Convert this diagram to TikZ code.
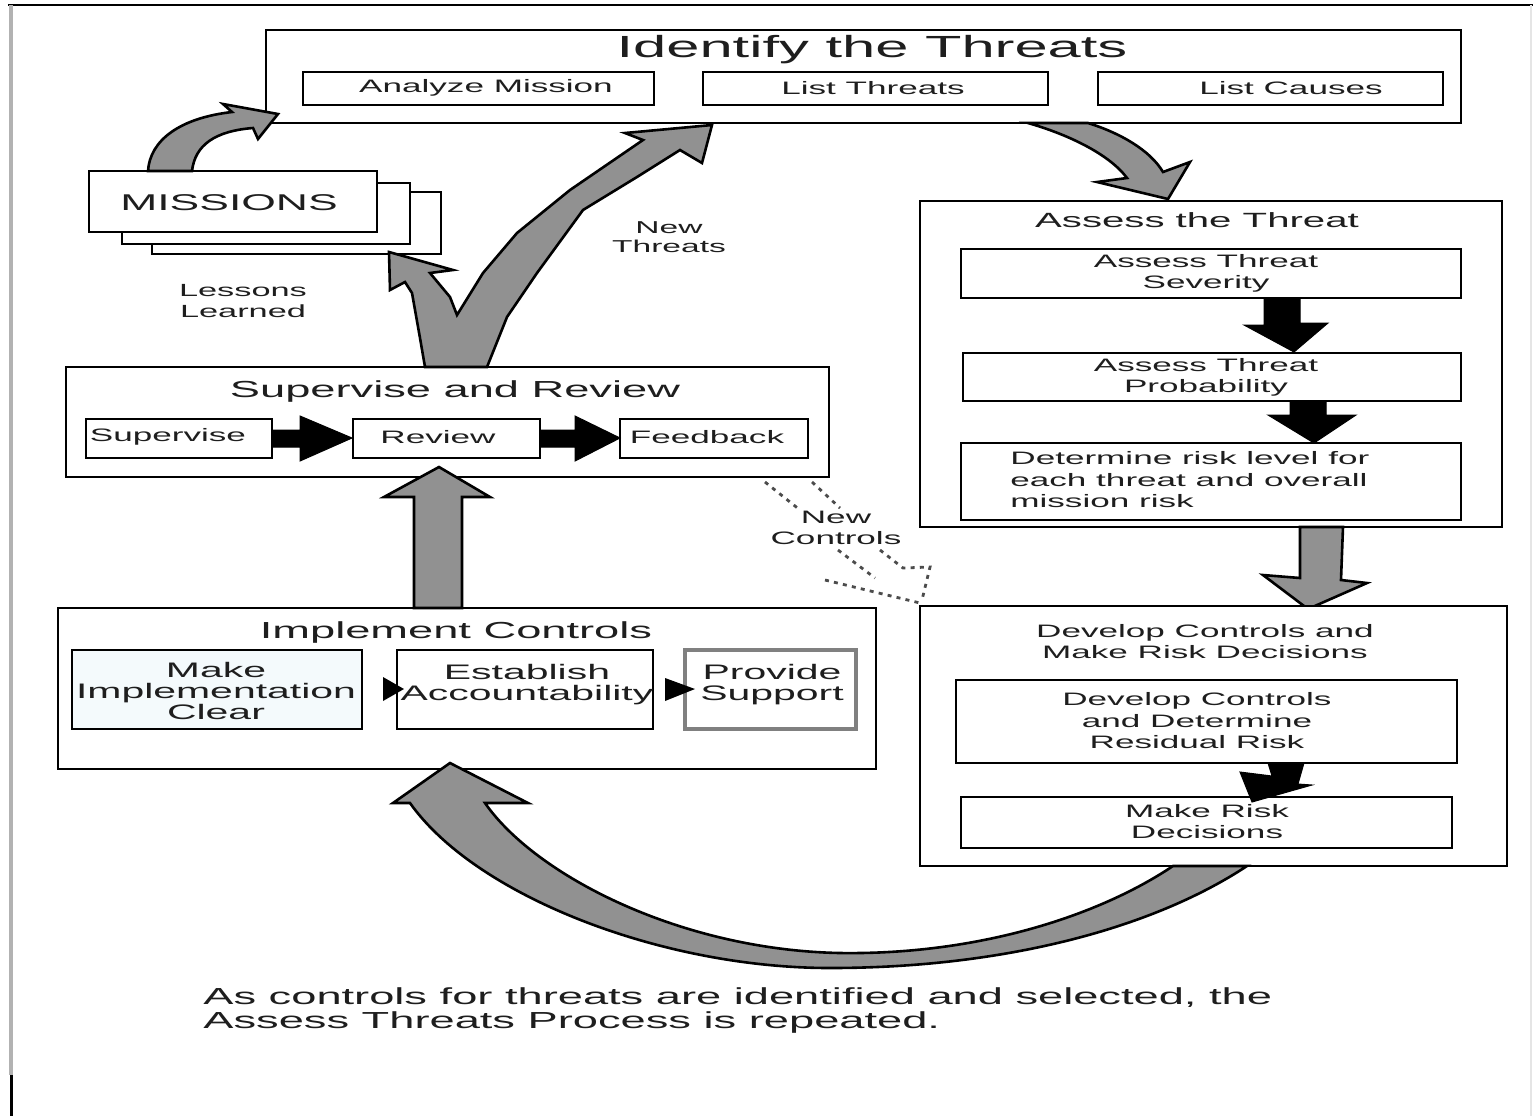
\documentclass[tikz,border=0pt]{standalone}
\usepackage{fontspec}
\setmainfont{Liberation Sans}[FakeStretch=1.95]
\usetikzlibrary{fit}
\definecolor{agray}{RGB}{145,145,145}
\definecolor{tcol}{RGB}{30,30,30}
\definecolor{lblue}{RGB}{244,250,252}
\begin{document}
\begin{tikzpicture}[x=0.5pt,y=-0.5pt,
  box/.style={draw=black, line width=1.3pt, inner sep=0pt, fill=white},
  txt/.style={font=\fontsize{9}{10.5}\selectfont, align=center, inner sep=0pt, text=tcol},
  ttl/.style={txt, font=\fontsize{11.6}{13}\selectfont},
  subt/.style={txt, font=\fontsize{10.5}{10.5}\selectfont},
  garrow/.style={fill=agray, draw=black, line width=1.3pt, line join=miter},
  barrow/.style={fill=black, draw=black, line width=0.5pt, line join=miter},
  dotline/.style={draw=black!70, line width=1.4pt, dash pattern=on 2pt off 2.6pt}]
\useasboundingbox (0,0) rectangle (1533,1116);
\fill[white] (0,0) rectangle (1533,1116);

% outer frame
\draw[black, line width=0.8pt] (8,5) -- (1533,5);
\draw[gray!60, line width=2.2pt] (11,5) -- (11,1075);
\draw[black, line width=1.5pt] (11,1075) -- (11,1116);
\draw[gray!20, line width=1pt] (1531,5) -- (1531,1116);

% Identify the Threats
\node[box, line width=1.4pt, fit={(266,30)(1461,123)}] (ident) {};
\node[txt, font=\fontsize{15.3}{17}\selectfont] (identt) at (872,50) {Identify the Threats};
\node[box, fit={(303,72)(654,105)}] (am) {};
\node[txt] (amt) at (486,88) {Analyze Mission};
\node[box, fit={(703,72)(1048,105)}] (lt) {};
\node[txt] (ltt) at (873,88) {List Threats};
\node[box, fit={(1098,72)(1443,105)}] (lc) {};
\node[txt] (lct) at (1291,88) {List Causes};

% Missions stack
\node[box, fit={(152,192)(441,254)}] (m3) {};
\node[box, fit={(122,183)(410,244)}] (m2) {};
\node[box, fit={(89,171)(377,232)}] (m1) {};
\node[txt, font=\fontsize{11.4}{13}\selectfont] (m1t) at (229,203) {MISSIONS};
\node[txt, font=\fontsize{8.8}{10.5}\selectfont] (ll) at (243,301) {Lessons\\Learned};
\node[txt, font=\fontsize{8.6}{9.5}\selectfont] (nt) at (669,237) {New\\Threats};

% Missions -> Identify arrow
\filldraw[garrow] (148,171) .. controls (150,140) and (180,118) .. (232,112)
  -- (223,104) -- (278,114) -- (258,139) -- (253,128)
  .. controls (215,131) and (195,145) .. (192,171) -- cycle;

% Supervise and Review
\node[box, fit={(66,367)(829,477)}] (sr) {};
\node[ttl] (srt) at (455,391) {Supervise and Review};
\node[box, fit={(86,419)(272,458)}] (sup) {};
\node[txt] (supt) at (168,437) {Supervise};
\node[box, fit={(353,419)(540,458)}] (rev) {};
\node[txt] (revt) at (438,437) {Review};
\node[box, fit={(620,419)(808,458)}] (fb) {};
\node[txt] (fbt) at (707,437) {Feedback};
\filldraw[barrow] (272,430) -- (300,430) -- (300,416) -- (352,438) -- (300,461) -- (300,447) -- (272,447) -- cycle;
\filldraw[barrow] (540,430) -- (575,430) -- (575,416) -- (620,438) -- (575,461) -- (575,447) -- (540,447) -- cycle;

% check-shaped arrow (Supervise -> Missions / Identify)
\filldraw[garrow] (425,367) -- (420,338) -- (412,293) -- (405,282) -- (390,290) -- (389,252)
  -- (453,270) -- (430,273) -- (450,297) -- (457,315) -- (483,273) -- (517,233)
  -- (570,190) -- (643,140) -- (625,133) -- (712,125) -- (702,163) -- (680,150)
  -- (637,177) -- (583,210) -- (537,273) -- (507,317) -- (487,367) -- cycle;

% Identify -> Assess arrow
\filldraw[garrow] (1028,123) -- (1088,123) .. controls (1120,133) and (1150,150) .. (1163,172)
  -- (1190,162) -- (1168,199) -- (1097,182) -- (1127,178)
  .. controls (1110,155) and (1070,135) .. (1028,123) -- cycle;

% Assess the Threat
\node[box, fit={(920,201)(1502,527)}] (at) {};
\node[txt, font=\fontsize{10.3}{12}\selectfont] (att) at (1197,220) {Assess the Threat};
\node[box, fit={(961,249)(1461,298)}] (sev) {};
\node[txt] (sevt) at (1206,273) {Assess Threat\\Severity};
\node[box, fit={(963,353)(1461,401)}] (prob) {};
\node[txt] (probt) at (1206,377) {Assess Threat\\Probability};
\node[box, fit={(961,443)(1461,520)}] (det) {};
\node[txt, align=left, anchor=west, font=\fontsize{9}{10.75}\selectfont] (dett) at (1010,480) {Determine risk level for\\each threat and overall\\mission risk};
\filldraw[barrow] (1264,298) -- (1300,298) -- (1300,323) -- (1328,323) -- (1294,352) -- (1244,325) -- (1264,325) -- cycle;
\filldraw[barrow] (1290,401) -- (1326,401) -- (1326,415) -- (1356,415) -- (1314,443) -- (1268,415) -- (1290,415) -- cycle;

% Assess -> Develop arrow
\filldraw[garrow] (1300,527) -- (1343,527) -- (1341,580) -- (1367,583) -- (1308,609) -- (1263,575) -- (1300,578) -- cycle;

% Develop Controls
\node[box, fit={(920,606)(1507,866)}] (dc) {};
\node[txt] (dct) at (1205,642) {Develop Controls and\\Make Risk Decisions};
\node[box, fit={(956,680)(1457,763)}] (dcr) {};
\node[txt, font=\fontsize{9}{10.75}\selectfont] (dcrt) at (1197,721) {Develop Controls\\and Determine\\Residual Risk};
\node[box, fit={(961,797)(1452,848)}] (mrd) {};
\node[txt] (mrdt) at (1207,822) {Make Risk\\Decisions};
\filldraw[barrow] (1268,763) -- (1304,763) -- (1298,784) -- (1312,785) -- (1252,802) -- (1240,772) -- (1272,776) -- cycle;

% Implement Controls
\node[box, fit={(58,608)(876,769)}] (ic) {};
\node[ttl] (ict) at (456,632) {Implement Controls};
\node[box, fill=lblue, fit={(72,650)(362,729)}] (mic) {};
\node[subt] (mict) at (216,691) {Make\\Implementation\\Clear};
\node[box, fit={(397,650)(653,729)}] (ea) {};
\node[subt] (eat) at (527,685) {Establish\\Accountability};
\node[box, draw=gray, line width=2pt, fit={(685,650)(856,729)}] (ps) {};
\node[subt] (pst) at (772,685) {Provide\\Support};
\fill[black] (383,677) -- (404,689) -- (383,701) -- cycle;
\fill[black] (665,678) -- (695,689) -- (665,701) -- cycle;

% Implement -> Supervise arrow
\filldraw[garrow] (414,608) -- (414,497) -- (384,497) -- (439,467) -- (490,497) -- (462,497) -- (462,608) -- cycle;

% New Controls dashed arrow
\draw[dotline] (765,482) -- (800,510);
\draw[dotline] (812,482) -- (840,508);
\draw[dotline] (838,550) -- (875,578);
\draw[dotline] (880,550) -- (903,568) -- (930,567) -- (922,600);
\draw[dotline] (825,580) -- (920,603);
\node[txt] (nc) at (836,528) {New\\Controls};

% Develop -> Implement curved arrow
\filldraw[garrow] (1247,866) .. controls (1150,930) and (1000,968) .. (830,968)
  .. controls (660,968) and (475,895) .. (410,803)
  -- (393,803) -- (450,763) -- (528,803) -- (485,803)
  .. controls (535,875) and (680,950) .. (840,953)
  .. controls (980,955) and (1100,915) .. (1173,866) -- cycle;

% caption
\node[txt, align=left, anchor=west, font=\fontsize{11.6}{12}\selectfont] (cap) at (203,1010) {As controls for threats are identified and selected, the\\Assess Threats Process is repeated.};
\end{tikzpicture}
\end{document}
